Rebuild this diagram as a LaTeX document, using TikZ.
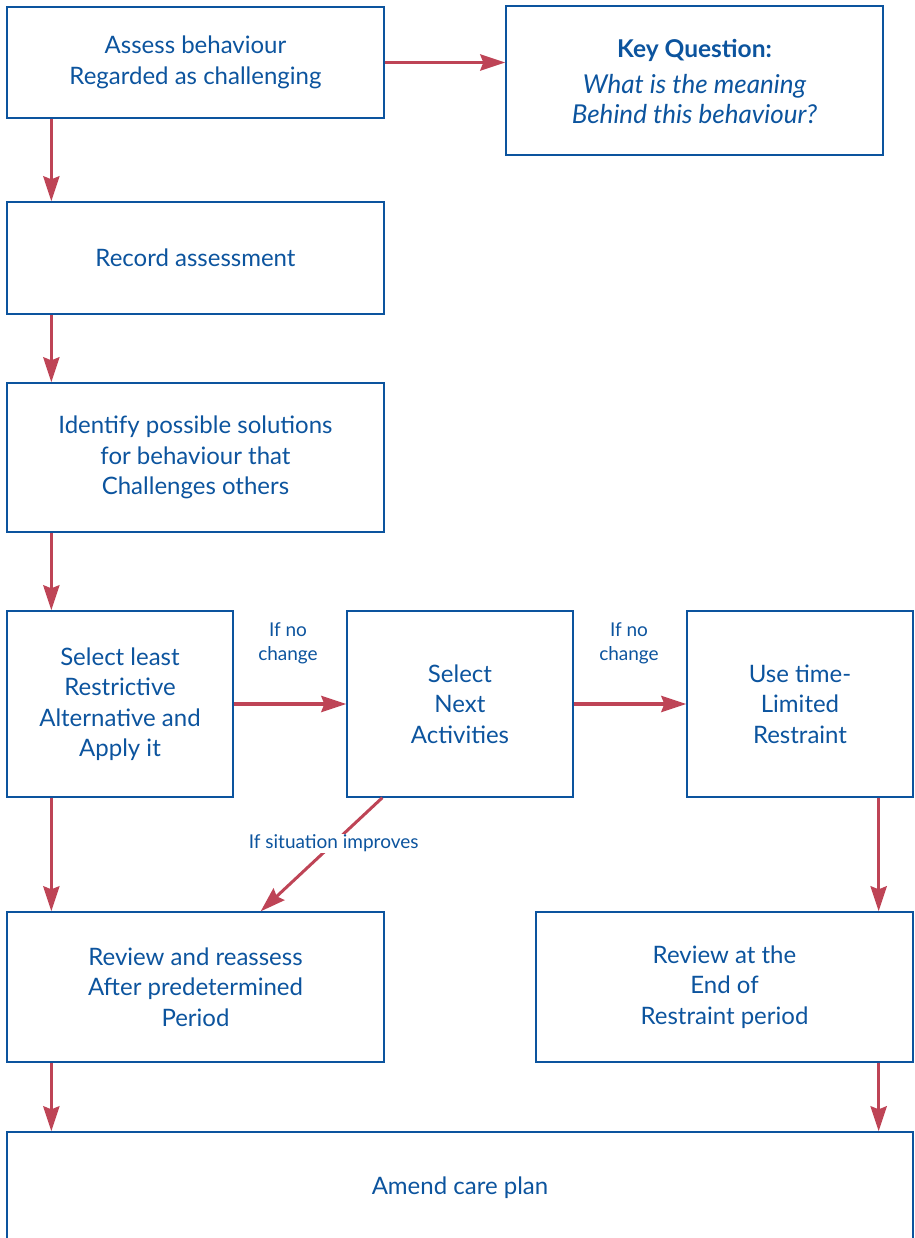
\documentclass[tikz,border=0pt]{standalone}
\usepackage{fontspec}
\setmainfont{Lato}
\usetikzlibrary{arrows.meta,calc}
\definecolor{nhsblue}{RGB}{12,84,158}
\definecolor{arrred}{RGB}{190,68,86}
\tikzset{
  box/.style={draw=nhsblue,line width=1.3pt,rectangle,inner sep=0pt,align=center,
    text=nhsblue,font=\fontsize{24}{30.5}\selectfont},
  lbl/.style={text=nhsblue,align=center,font=\fontsize{19}{24}\selectfont,inner sep=1pt},
  arr/.style={draw=arrred,line width=3.6pt,-{Stealth[length=25pt,width=16pt,inset=3pt]}},
}
\begin{document}
\begin{tikzpicture}[x=1pt,y=-1pt]
\useasboundingbox (0,0) rectangle (914,1238);
\node[box,minimum width=377pt,minimum height=111pt] (A) at (195.5,62.5) {Assess behaviour\\Regarded as challenging};
\node[box,minimum width=377pt,minimum height=149pt] (K) at (694.5,80.5) {};
\node[text=nhsblue,align=center,inner sep=0pt,font=\fontsize{26}{30}\selectfont] (KT) at (694.5,81) {{\fontsize{24.5}{30}\selectfont\bfseries Key Question:}\\[6pt]{\itshape What is the meaning}\\{\itshape Behind this behaviour?}};
\node[box,minimum width=377pt,minimum height=112pt] (R) at (195.5,258) {Record assessment};
\node[box,minimum width=377pt,minimum height=149pt] (I) at (195.5,457.5) {Identify possible solutions\\for behaviour that\\Challenges others};
\node[box,minimum width=226pt,minimum height=186pt] (S) at (120,704) {Select least\\Restrictive\\Alternative and\\Apply it};
\node[box,minimum width=226pt,minimum height=186pt] (N) at (460,704) {Select\\Next\\Activities};
\node[box,minimum width=226pt,minimum height=186pt] (U) at (800,704) {Use time-\\Limited\\Restraint};
\node[box,minimum width=377pt,minimum height=150pt] (V) at (195.5,987) {Review and reassess\\After predetermined\\Period};
\node[box,minimum width=377pt,minimum height=150pt] (W) at (724.5,987) {Review at the\\End of\\Restraint period};
\node[box,minimum width=906pt,minimum height=112pt] (P) at (460,1188) {Amend care plan};

\draw[arr] (A.east) -- (K.west |- A.east);
\draw[arr] (A.south west)++(45,0) coordinate (a1) -- (a1 |- R.north);
\draw[arr] (R.south west)++(45,0) coordinate (a2) -- (a2 |- I.north);
\draw[arr] (I.south west)++(45,0) coordinate (a3) -- (a3 |- S.north);
\draw[arr] (S.east) -- (N.west);
\draw[arr] (N.east) -- (U.west);
\draw[arr] (S.south west)++(45,0) coordinate (a4) -- (a4 |- V.north);
\draw[arr] (U.south east)++(-35,0) coordinate (a5) -- (a5 |- W.north);
\draw[arr] (V.south west)++(45,0) coordinate (a6) -- (a6 |- P.north);
\draw[arr] (W.south east)++(-35,0) coordinate (a7) -- (a7 |- P.north);
\draw[arr,line width=3pt] ($(N.south west)+(36,0)$) -- node[pos=0.4,fill=white,lbl] {If situation improves} ($(V.north east)+(-124,0)$);

\node[lbl] (L1) at (288,643) {If no\\change};
\node[lbl] (L2) at (629,643) {If no\\change};
\end{tikzpicture}
\end{document}
